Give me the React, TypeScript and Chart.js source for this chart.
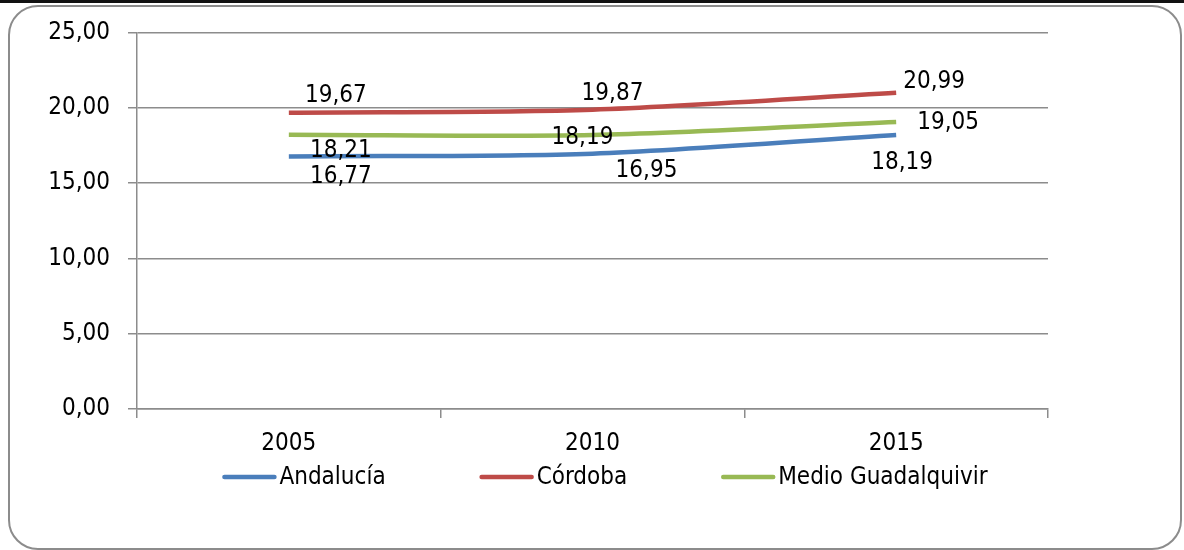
import React, { useEffect, useRef } from "react";
import { Chart, registerables } from "chart.js";

Chart.register(...registerables);

const categories = ["2005", "2010", "2015"];
const seriesNames = ["Andalucía", "Córdoba", "Medio Guadalquivir"];
const andalucia = [16.77, 16.95, 18.19];
const cordoba = [19.67, 19.87, 20.99];
const medio = [18.21, 18.19, 19.05];
const yMin = 0;
const yMax = 25;
const yStep = 5;

const colors = ["#4A7EBB", "#BE4B48", "#98B954"];
// pixel offsets of the value labels from their points (styling only)
const labelOffsets = [
  [[52, 20], [54, 17], [6, 28]],
  [[47, -17], [20, -16], [38, -11]],
  [[52, 16], [-10, 3], [52, 1]],
];

const FONT = "'DejaVu Sans Condensed', 'DejaVu Sans', sans-serif";
const TEXT = "#000";
const fmt = (v: number) => v.toFixed(2).replace(".", ",");

const valueLabels = {
  id: "valueLabels",
  afterDatasetsDraw(chart: any) {
    const ctx = chart.ctx;
    ctx.save();
    ctx.font = `24px ${FONT}`;
    ctx.fillStyle = TEXT;
    ctx.textAlign = "center";
    ctx.textBaseline = "middle";
    chart.data.datasets.forEach((ds: any, i: number) => {
      const meta = chart.getDatasetMeta(i);
      meta.data.forEach((pt: any, j: number) => {
        const off = labelOffsets[i][j];
        ctx.fillText(fmt(ds.data[j]), pt.x + off[0], pt.y + off[1]);
      });
    });
    ctx.restore();
  },
};

const customLegend = {
  id: "customLegend",
  afterDraw(chart: any) {
    const ctx = chart.ctx;
    ctx.save();
    ctx.font = `24px ${FONT}`;
    ctx.textBaseline = "middle";
    ctx.textAlign = "left";
    const lineLen = 54;
    const lineGap = 3;
    const itemGap = 94;
    const items = chart.data.datasets.map((ds: any) => ({
      label: ds.label,
      color: ds.borderColor,
      w: ctx.measureText(ds.label).width,
    }));
    let total = 0;
    items.forEach((it: any, k: number) => {
      total += lineLen + lineGap + it.w + (k < items.length - 1 ? itemGap : 0);
    });
    let x = 605 - total / 2;
    const y = 477;
    items.forEach((it: any) => {
      ctx.strokeStyle = it.color;
      ctx.lineWidth = 4.5;
      ctx.lineCap = "round";
      ctx.beginPath();
      ctx.moveTo(x + 2, y);
      ctx.lineTo(x + lineLen - 2, y);
      ctx.stroke();
      ctx.fillStyle = TEXT;
      ctx.fillText(it.label, x + lineLen + lineGap, y + 1);
      x += lineLen + lineGap + it.w + itemGap;
    });
    ctx.restore();
  },
};

export default function App() {
  const ref = useRef<HTMLCanvasElement | null>(null);

  useEffect(() => {
    if (!ref.current) return;
    const gridColor = "#8c8c8c";
    const chart = new Chart(ref.current, {
      type: "line",
      data: {
        labels: categories,
        datasets: [andalucia, cordoba, medio].map((d, i) => ({
          label: seriesNames[i],
          data: d,
          borderColor: colors[i],
          backgroundColor: colors[i],
          borderWidth: 4.5,
          pointRadius: 0,
          tension: 0.3,
          fill: false,
        })),
      },
      options: {
        responsive: false,
        animation: false,
        layout: { padding: { top: 32, right: 136, left: 0, bottom: 0 } },
        plugins: {
          legend: { display: false },
          tooltip: { enabled: false },
        },
        scales: {
          x: {
            type: "category",
            offset: true,
            grid: {
              offset: true,
              drawOnChartArea: false,
              drawTicks: true,
              tickLength: 9,
              color: gridColor,
              lineWidth: 1.5,
            },
            border: { color: gridColor, width: 1.5 },
            ticks: {
              color: TEXT,
              font: { family: FONT, size: 24 },
              padding: 11,
              maxRotation: 0,
            },
            afterFit: (scale: any) => {
              scale.height = 141;
            },
          },
          y: {
            min: yMin,
            max: yMax,
            grid: {
              color: gridColor,
              lineWidth: 1.5,
              drawTicks: true,
              tickLength: 9,
            },
            border: { color: gridColor, width: 1.5 },
            ticks: {
              stepSize: yStep,
              color: TEXT,
              font: { family: FONT, size: 24 },
              padding: 18,
              callback: (v: any) => fmt(Number(v)),
            },
            afterFit: (scale: any) => {
              scale.width = 137;
            },
          },
        },
      },
      plugins: [valueLabels, customLegend],
    });
    return () => chart.destroy();
  }, []);

  return (
    <div style={{ position: "absolute", left: 0, top: 0, width: 1184, height: 550, background: "#fff", overflow: "hidden" }}>
      <div style={{ position: "absolute", left: 0, top: 0, width: 1184, height: 3, background: "#111" }} />
      <div
        style={{
          position: "absolute",
          left: 8,
          top: 5,
          width: 1170,
          height: 541,
          border: "2px solid #8c8c8c",
          borderRadius: 30,
        }}
      />
      <canvas ref={ref} width={1184} height={550} style={{ position: "absolute", left: 0, top: 0 }} />
    </div>
  );
}
